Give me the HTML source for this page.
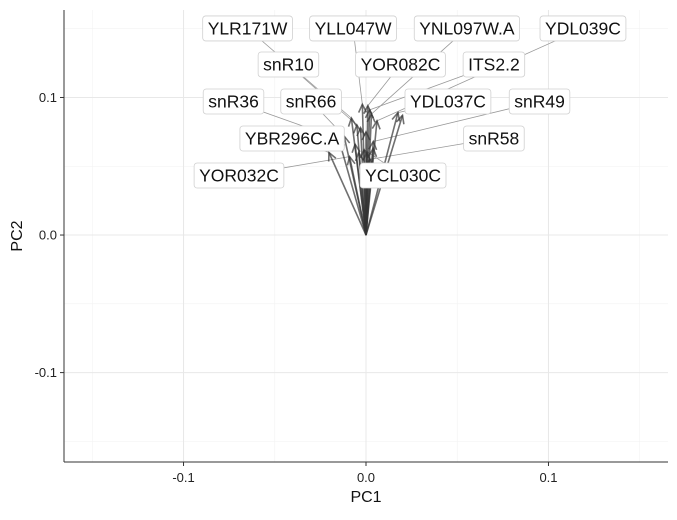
<!DOCTYPE html>
<html><head><meta charset="utf-8"><style>
body{margin:0;background:#fff;font-family:"Liberation Sans",Arial,sans-serif}
svg text{font-family:"Liberation Sans",Arial,sans-serif}
</style></head><body>
<svg id="chart" width="677" height="515" viewBox="0 0 677 515" xmlns="http://www.w3.org/2000/svg">
<g id="grid"></g>
<g id="segs"></g>
<g id="arrows"></g>
<g id="labels"></g>
<g id="axes"></g>
</svg>
<script>
const geneNames = ["YLR171W","YLL047W","YNL097W.A","YDL039C","snR10","YOR082C","ITS2.2","snR36","snR66","YDL037C","snR49","YBR296C.A","snR58","YOR032C","YCL030C"];
const pc1 = [-0.008,-0.002,0.003,0.006,-0.005,0.001,0.002,-0.015,-0.012,0.0175,0.004,-0.0203,0.002,-0.009,-0.001];
const pc2 = [0.085,0.095,0.088,0.083,0.080,0.094,0.091,0.070,0.072,0.089,0.068,0.060,0.055,0.057,0.062];
const extraPc1 = [-0.003,0.004,-0.004,0.0005,0.020,-0.006,0.0];
const extraPc2 = [0.078,0.063,0.060,0.060,0.087,0.066,0.075];
const labelPc1 = [-0.0649,-0.0071,0.0553,0.1189,-0.0425,0.0189,0.0701,-0.0726,-0.0301,0.0449,0.0951,-0.0405,0.0701,-0.0696,0.0203];
const labelPc2 = [0.1502,0.1502,0.1502,0.1502,0.124,0.124,0.124,0.0971,0.0971,0.0971,0.0971,0.0702,0.0702,0.0433,0.0433];
const xTicks = [-0.1,0,0.1];
const yTicks = [-0.1,0,0.1];
const xTickLabels = ["-0.1","0.0","0.1"];
const yTickLabels = ["-0.1","0.0","0.1"];
const minorTicks = [-0.15,-0.05,0.05,0.15];

const L=64,R=668,T=10,B=462;
const xMin=-0.1655,xMax=0.1655,yMin=-0.165,yMax=0.1636;
const sx=v=>L+(v-xMin)/(xMax-xMin)*(R-L);
const sy=v=>B-(v-yMin)/(yMax-yMin)*(B-T);
const NS="http://www.w3.org/2000/svg";
function mk(tag,attrs,parent){const e=document.createElementNS(NS,tag);for(const k in attrs)e.setAttribute(k,attrs[k]);parent.appendChild(e);return e;}
const grid=document.getElementById('grid'),segs=document.getElementById('segs'),arrows=document.getElementById('arrows'),labels=document.getElementById('labels'),axes=document.getElementById('axes');
minorTicks.forEach(v=>{
  let g=mk('line',{x1:sx(v),x2:sx(v),y1:T,y2:B,stroke:'#f2f2f2','stroke-width':0.6},grid);
  
  
  g=mk('line',{x1:L,x2:R,y1:sy(v),y2:sy(v),stroke:'#f2f2f2','stroke-width':0.6},grid);
  
  
});
xTicks.forEach((v,i)=>{
  let g=mk('line',{x1:sx(v),x2:sx(v),y1:T,y2:B,stroke:'#e8e8e8','stroke-width':1},grid);
  
  
  let t=mk('line',{x1:sx(v),x2:sx(v),y1:B,y2:B+4,stroke:'#333','stroke-width':1},axes);
  
  
  let tx=mk('text',{x:sx(v),y:B+20,'text-anchor':'middle','font-size':13,fill:'#222'},axes);
  tx.textContent=xTickLabels[i];
  
  
});
yTicks.forEach((v,i)=>{
  let g=mk('line',{x1:L,x2:R,y1:sy(v),y2:sy(v),stroke:'#e8e8e8','stroke-width':1},grid);
  
  
  let t=mk('line',{x1:L-4,x2:L,y1:sy(v),y2:sy(v),stroke:'#333','stroke-width':1},axes);
  
  
  let tx=mk('text',{x:L-7,y:sy(v)+4.5,'text-anchor':'end','font-size':13,fill:'#222'},axes);
  tx.textContent=yTickLabels[i];
  
  
});
let ax=mk('line',{x1:L,x2:L,y1:T,y2:B,stroke:'#333','stroke-width':1},axes);


ax=mk('line',{x1:L,x2:R,y1:B,y2:B,stroke:'#333','stroke-width':1},axes);


let xt=mk('text',{x:(L+R)/2,y:502,'text-anchor':'middle','font-size':16,fill:'#111'},axes);
xt.textContent='PC1';


let yt=mk('text',{x:0,y:0,'text-anchor':'middle','font-size':16,fill:'#111',transform:`translate(22,${(T+B)/2}) rotate(-90)`},axes);
yt.textContent='PC2';



function arrow(x,y){
  const x0=sx(0),y0=sy(0),x1=sx(x),y1=sy(y);
  const a=Math.atan2(y1-y0,x1-x0),h=9,w=0.45;
  const g=mk('g',{stroke:'#333','stroke-opacity':0.7,'stroke-width':1.6,fill:'none'},arrows);
  
  
  mk('line',{x1:x0,y1:y0,x2:x1,y2:y1},g);
  mk('polyline',{points:`${x1-h*Math.cos(a-w)},${y1-h*Math.sin(a-w)} ${x1},${y1} ${x1-h*Math.cos(a+w)},${y1-h*Math.sin(a+w)}`},g);
}
extraPc1.forEach((v,i)=>arrow(v,extraPc2[i]));
geneNames.forEach((n,i)=>{
  arrow(pc1[i],pc2[i]);
  const cx=sx(labelPc1[i]),cy=sy(labelPc2[i]);
  const s=mk('line',{x1:cx,y1:cy,x2:sx(pc1[i]),y2:sy(pc2[i]),stroke:'#999','stroke-width':0.8},segs);
  
  
  const g=mk('g',{},labels);
  
  
  const t=mk('text',{x:cx,y:cy+6,'text-anchor':'middle','font-size':17.5,fill:'#111'},g);
  t.textContent=n;
  const w=t.getComputedTextLength()+10;
  const r=mk('rect',{x:cx-w/2,y:cy-12.5,width:w,height:25,rx:3,fill:'#fff',stroke:'#d0d0d0','stroke-width':0.8},g);
  g.insertBefore(r,t);
});
</script>
</body></html>
